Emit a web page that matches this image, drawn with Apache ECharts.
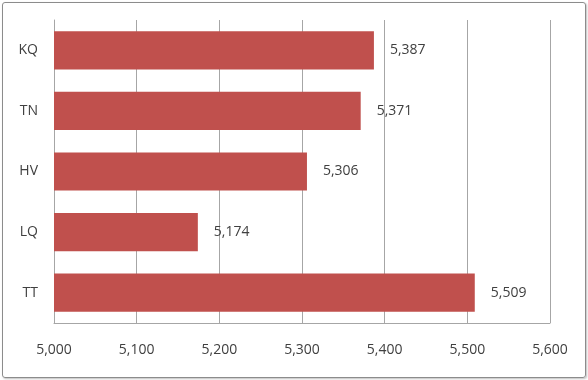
<!DOCTYPE html>
<html>
<head>
<meta charset="utf-8">
<script src="https://cdn.jsdelivr.net/npm/echarts@6/dist/echarts.min.js"></script>
<style>
html,body{margin:0;padding:0;background:#fff;}
#frame{position:absolute;left:2px;top:2px;width:582px;height:374px;border:1px solid #8c8c8c;border-radius:3px;box-shadow:1px 1px 2px rgba(0,0,0,0.25);}
#chart{position:absolute;left:0;top:0;width:588px;height:380px;}
</style>
</head>
<body>
<div id="frame"></div>
<div id="chart"></div>
<script>
const categories = ['KQ', 'TN', 'HV', 'LQ', 'TT'];
const values = [5.387, 5.371, 5.306, 5.174, 5.509];
const axisMin = 5.0, axisMax = 5.6, axisStep = 0.1;

const fmt = v => v.toFixed(3).replace('.', ',');
const chart = echarts.init(document.getElementById('chart'), null, {renderer: 'canvas'});
const font = "'Open Sans', 'Noto Sans', sans-serif";
chart.setOption({
  animation: false,
  grid: {left: 54, right: 38, top: 20, bottom: 57, containLabel: false},
  xAxis: {
    type: 'value', min: axisMin, max: axisMax, interval: axisStep,
    axisLine: {show: true, lineStyle: {color: '#a6a6a6', width: 1}},
    axisTick: {show: false},
    splitLine: {show: true, lineStyle: {color: '#a6a6a6', width: 1}},
    axisLabel: {margin: 20, color: '#404040', fontSize: 14, fontFamily: font,
      formatter: v => fmt(v)}
  },
  yAxis: {
    type: 'category', data: categories, inverse: true,
    axisLine: {show: true, lineStyle: {color: '#a6a6a6', width: 1}},
    axisTick: {show: false},
    axisLabel: {margin: 16, color: '#404040', fontSize: 14, fontFamily: font}
  },
  series: [{
    type: 'bar', data: values, barWidth: '63%',
    itemStyle: {color: '#c0504d'},
    label: {show: true, position: 'right', distance: 16, color: '#404040', fontSize: 14,
      fontFamily: font, formatter: p => fmt(p.value)}
  }]
});
</script>
</body>
</html>
